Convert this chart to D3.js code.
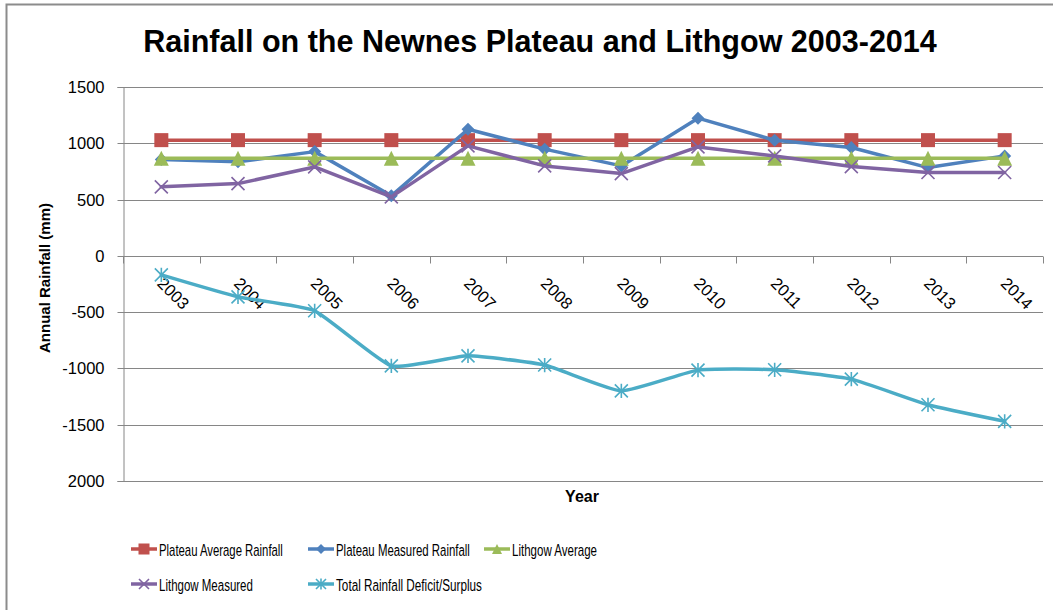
<!DOCTYPE html>
<html>
<head>
<meta charset="utf-8">
<script src="https://cdn.jsdelivr.net/npm/d3@7"></script>
<style>
  html, body { margin: 0; padding: 0; background: #fff; }
  svg { display: block; }
</style>
</head>
<body>
<svg id="chart" width="1053" height="610"></svg>
<script>
// Rainfall data, 2003-2014 (mm)
const years = ["2003","2004","2005","2006","2007","2008","2009","2010","2011","2012","2013","2014"];
const plateauAverage  = [1028,1028,1028,1028,1028,1028,1028,1028,1028,1028,1028,1028];
const plateauMeasured = [855, 835, 926, 533, 1125, 948, 799, 1223, 1027, 962, 784, 888];
const lithgowAverage  = [866, 866, 866, 866, 866, 866, 866, 866, 866, 866, 866, 866];
const lithgowMeasured = [613, 642, 790, 524, 977, 799, 731, 968, 888, 793, 740, 740];
const totalDeficit    = [-169, -364, -488, -977, -888, -970, -1199, -1015, -1012, -1095, -1323, -1470];
const yTickValues = [-2000, -1500, -1000, -500, 0, 500, 1000, 1500];
const yTickLabels = ["2000", "-1500", "-1000", "-500", "0", "500", "1000", "1500"];

const series = [
  { name: "Plateau Average Rainfall",       values: plateauAverage,  color: "#C0504D", marker: "square" },
  { name: "Plateau Measured Rainfall",      values: plateauMeasured, color: "#4F81BD", marker: "diamond" },
  { name: "Lithgow Average",                values: lithgowAverage,  color: "#9BBB59", marker: "triangle" },
  { name: "Lithgow Measured",               values: lithgowMeasured, color: "#8064A2", marker: "x" },
  { name: "Total Rainfall Deficit/Surplus", values: totalDeficit,    color: "#4BACC6", marker: "star", smooth: true }
];

const svg = d3.select("#chart");
const FONT = "'Liberation Sans', Arial, sans-serif";

// squeeze a text horizontally so that it spans the given width
function fitWidth(sel, width) {
  const t = sel.node();
  const natural = t.getComputedTextLength();
  const sx = Math.min(1, width / natural);
  const base = sel.attr("transform") || "";
  sel.attr("transform", `${base} scale(${sx},1)`);
}

// outer chart frame
svg.append("path")
  .attr("d", "M6.5,620 L6.5,4.5 L1060,4.5")
  .attr("fill", "none").attr("stroke", "#8c8c8c").attr("stroke-width", 2);

const x = d3.scaleBand().domain(years).range([123, 1043]).padding(0);
const y = d3.scaleLinear().domain([-2000, 1500]).range([481, 87]);
const cx = d => x(d) + x.bandwidth() / 2;

// title
const title = svg.append("text")
  .attr("transform", "translate(540,52)")
  .attr("text-anchor", "middle")
  .attr("font-family", FONT).attr("font-weight", "bold").attr("font-size", 31)
  .attr("fill", "#000")
  .text("Rainfall on the Newnes Plateau and Lithgow 2003-2014");
fitWidth(title, 794);

// horizontal gridlines
svg.append("g").selectAll("line").data(yTickValues).join("line")
  .attr("x1", 123).attr("x2", 1043)
  .attr("y1", d => Math.round(y(d)) + 0.5).attr("y2", d => Math.round(y(d)) + 0.5)
  .attr("stroke", "#868686").attr("stroke-width", 1);

// y axis
const yAxis = d3.axisLeft(y).tickValues(yTickValues).tickSize(6).tickPadding(13)
  .tickFormat((d, i) => yTickLabels[i]);
const gy = svg.append("g").attr("transform", "translate(123.5,0)").call(yAxis);
gy.select(".domain").attr("stroke", "#868686");
gy.selectAll(".tick line").attr("stroke", "#868686");
gy.selectAll(".tick text").attr("font-family", FONT).attr("font-size", 16.5).attr("fill", "#000")
  .attr("dy", "0.36em");
gy.selectAll(".tick").attr("transform", d => `translate(0,${Math.round(y(d)) + 0.5})`);

// category axis along zero
const gx = svg.append("g").attr("transform", `translate(0,${Math.round(y(0)) + 0.5})`);
gx.selectAll("line.cat").data(years.concat(["end"])).join("line")
  .attr("class", "cat")
  .attr("x1", (d, i) => Math.round(123 + i * x.bandwidth()) + 0.5)
  .attr("x2", (d, i) => Math.round(123 + i * x.bandwidth()) + 0.5)
  .attr("y1", 0).attr("y2", 7)
  .attr("stroke", "#868686");
gx.selectAll("text").data(years).join("text")
  .attr("transform", d => `translate(${cx(d) - 5},${28}) rotate(45)`)
  .attr("font-family", FONT).attr("font-size", 16.5).attr("fill", "#000")
  .text(d => d);

// axis titles
const yTitle = svg.append("text")
  .attr("transform", "translate(50,278) rotate(-90)")
  .attr("text-anchor", "middle")
  .attr("font-family", FONT).attr("font-weight", "bold").attr("font-size", 15)
  .attr("fill", "#000")
  .text("Annual Rainfall (mm)");
fitWidth(yTitle, 170);
svg.append("text")
  .attr("x", 582).attr("y", 502)
  .attr("text-anchor", "middle")
  .attr("font-family", FONT).attr("font-weight", "bold").attr("font-size", 16)
  .attr("fill", "#000")
  .text("Year");

// marker drawing
function drawMarker(g, type, color, s) {
  const r = s / 2;
  if (type === "square") {
    g.append("rect").attr("x", -r).attr("y", -r).attr("width", s).attr("height", s)
      .attr("fill", color);
  } else if (type === "diamond") {
    g.append("path").attr("d", `M0,${-r}L${r},0L0,${r}L${-r},0Z`).attr("fill", color);
  } else if (type === "triangle") {
    g.append("path").attr("d", `M0,${-r}L${r},${r}L${-r},${r}Z`).attr("fill", color);
  } else if (type === "x") {
    g.append("path").attr("d", `M${-r},${-r}L${r},${r}M${-r},${r}L${r},${-r}`)
      .attr("stroke", color).attr("stroke-width", 1.6).attr("fill", "none");
  } else if (type === "star") {
    g.append("path").attr("d", `M${-r},${-r}L${r},${r}M${-r},${r}L${r},${-r}M0,${-r * 1.1}L0,${r * 1.1}`)
      .attr("stroke", color).attr("stroke-width", 1.6).attr("fill", "none");
  }
}
const markerSize = { square: 14, diamond: 13, triangle: 15, x: 13, star: 13 };

// series lines and markers
series.forEach(s => {
  const pts = years.map((yr, i) => [cx(yr), y(s.values[i])]);
  const line = d3.line().curve(s.smooth ? d3.curveCardinal.tension(0.55) : d3.curveLinear);
  const g = svg.append("g");
  g.append("path").attr("d", line(pts))
    .attr("fill", "none").attr("stroke", s.color).attr("stroke-width", 3.5)
    .attr("stroke-linejoin", "round").attr("stroke-linecap", "round");
  pts.forEach(p => {
    const m = g.append("g").attr("transform", `translate(${p[0]},${p[1]})`);
    drawMarker(m, s.marker, s.color, markerSize[s.marker]);
  });
});

// legend: position and text width of each entry
const legendLayout = [
  { x: 131, y: 549, w: 124 },
  { x: 308, y: 549, w: 134 },
  { x: 484, y: 549, w: 85 },
  { x: 131, y: 584, w: 94 },
  { x: 308, y: 584, w: 146 }
];
series.forEach((s, i) => {
  const L = legendLayout[i];
  const g = svg.append("g").attr("transform", `translate(${L.x},${L.y})`);
  g.append("line").attr("x1", 0).attr("x2", 26).attr("y1", 0).attr("y2", 0)
    .attr("stroke", s.color).attr("stroke-width", 3.5);
  const m = g.append("g").attr("transform", "translate(13,0)");
  drawMarker(m, s.marker, s.color, s.marker === "square" ? 11 : 10);
  const t = g.append("text").attr("transform", "translate(28,6.5)")
    .attr("font-family", FONT).attr("font-size", 17).attr("fill", "#000")
    .text(s.name);
  fitWidth(t, L.w);
});
</script>
</body>
</html>
